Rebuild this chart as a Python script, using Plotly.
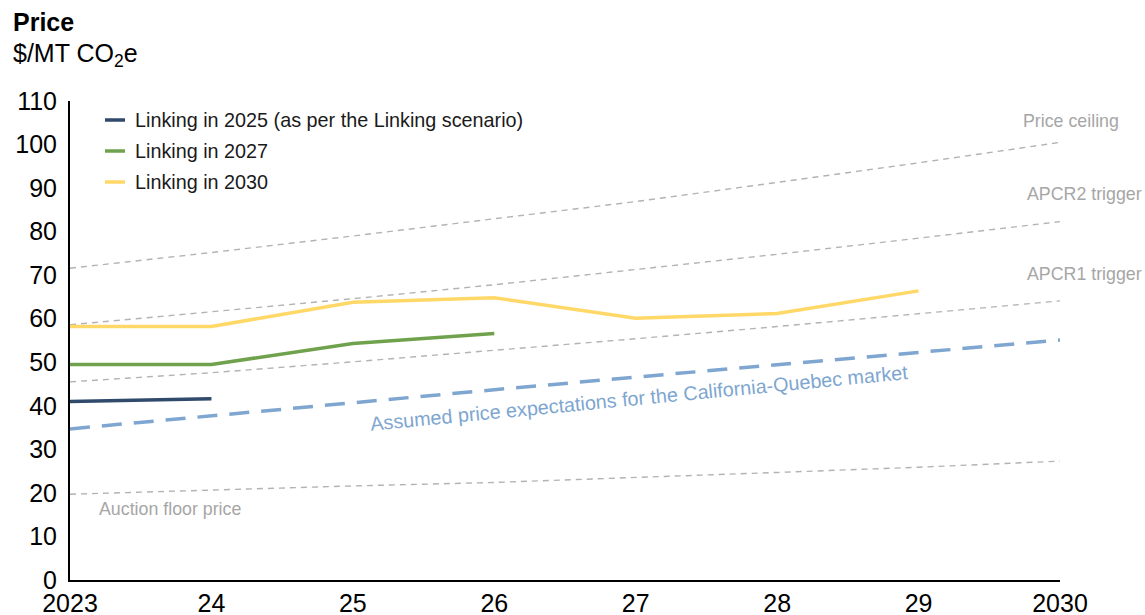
import plotly.graph_objects as go

years = [2023, 2024, 2025, 2026, 2027, 2028, 2029, 2030]
tick_labels = ["2023", "24", "25", "26", "27", "28", "29", "2030"]

# Linking scenarios
link_2025 = [41.0, 41.6]
link_2027 = [49.5, 49.5, 54.3, 56.6]
link_2030 = [58.2, 58.2, 63.8, 64.8, 60.1, 61.2, 66.4]

# Market reference levels
price_ceiling = [71.6, 75.2, 79.0, 82.9, 86.9, 91.3, 95.8, 100.5]
apcr2_trigger = [58.6, 61.6, 64.6, 67.8, 71.3, 74.8, 78.5, 82.3]
apcr1_trigger = [45.5, 47.6, 50.1, 52.7, 55.4, 58.2, 61.1, 64.1]
floor_price = [19.7, 20.7, 21.6, 22.4, 23.5, 24.7, 25.9, 27.3]
expected_price = [34.7, 37.7, 40.8, 43.7, 46.6, 49.5, 52.3, 55.1]

FONT = "Liberation Sans, Arial, sans-serif"
GREY = "#b3b3b3"
GREY_TXT = "#a6a6a6"
BLUE = "#7ea6d0"
NAVY = "#2f4a6b"
GREEN = "#70a24d"
YELLOW = "#ffd868"

fig = go.Figure()

for vals in [price_ceiling, apcr2_trigger, apcr1_trigger, floor_price]:
    fig.add_trace(go.Scatter(x=years, y=vals, mode="lines",
                             line=dict(color=GREY, width=1.4, dash="6px,5px"),
                             showlegend=False, hoverinfo="skip"))

fig.add_trace(go.Scatter(x=years, y=expected_price, mode="lines",
                         line=dict(color=BLUE, width=3.5, dash="20px,12px"),
                         showlegend=False))

series = [
    ("Linking in 2025 (as per the Linking scenario)", link_2025, NAVY),
    ("Linking in 2027", link_2027, GREEN),
    ("Linking in 2030", link_2030, YELLOW),
]
for name, vals, col in series:
    fig.add_trace(go.Scatter(x=years[:len(vals)], y=vals, mode="lines", name=name,
                             line=dict(color=col, width=3.5), showlegend=False))

# Legend drawn as short line samples with labels
PLOT_W = 990.0
PLOT_H = 479.0
for i, (name, vals, col) in enumerate(series):
    ypix = 120 + 31 * i
    yp = (580 - ypix) / PLOT_H
    fig.add_shape(type="line", xref="paper", yref="paper",
                  x0=(105 - 70) / PLOT_W, x1=(125 - 70) / PLOT_W, y0=yp, y1=yp,
                  line=dict(color=col, width=3.5))
    fig.add_annotation(xref="paper", yref="paper", x=(133 - 70) / PLOT_W, y=yp,
                       text=name, showarrow=False, xanchor="left", yanchor="middle",
                       font=dict(family=FONT, size=19.8, color="#1a1a1a"))

# Reference line labels
labels = [
    ("Price ceiling", 1121, 121, "right"),
    ("APCR2 trigger", 1144, 194, "right"),
    ("APCR1 trigger", 1144, 274, "right"),
    ("Auction floor price", 97, 509, "left"),
]
for txt, xpix, ypix, anchor in labels:
    fig.add_annotation(xref="paper", yref="paper", x=(xpix - 70) / PLOT_W,
                       y=(580 - ypix) / PLOT_H, text=txt, showarrow=False,
                       xanchor=anchor, yanchor="middle",
                       font=dict(family=FONT, size=17.8, color=GREY_TXT))

fig.add_annotation(x=2027.02, y=41.8, text="Assumed price expectations for the California-Quebec market",
                   showarrow=False, textangle=-5.5,
                   font=dict(family=FONT, size=19.8, color=BLUE))

# Title block
fig.add_annotation(xref="paper", yref="paper", x=(11 - 70) / PLOT_W, y=(580 - 22) / PLOT_H,
                   text="<b>Price</b>", showarrow=False, xanchor="left", yanchor="middle",
                   font=dict(family=FONT, size=25, color="#000000"))
fig.add_annotation(xref="paper", yref="paper", x=(11 - 70) / PLOT_W, y=(580 - 55) / PLOT_H,
                   text="$/MT CO<sub>2</sub>e", showarrow=False, xanchor="left", yanchor="middle",
                   font=dict(family=FONT, size=25, color="#000000"))

fig.update_layout(
    width=1145, height=615,
    margin=dict(l=70, r=85, t=101, b=35),
    plot_bgcolor="white", paper_bgcolor="white",
    font=dict(family=FONT, size=25, color="#000000"),
    showlegend=False,
    xaxis=dict(range=[2023, 2030], tickvals=years, ticktext=tick_labels,
               showgrid=False, zeroline=False, showline=True, linecolor="#000000",
               linewidth=2, ticks="", tickfont=dict(size=25), ticklabelstandoff=0,
               automargin=False),
    yaxis=dict(range=[0, 110], tickvals=list(range(0, 111, 10)),
               showgrid=False, zeroline=False, showline=True, linecolor="#000000",
               linewidth=2, ticks="", tickfont=dict(size=25), ticklabelstandoff=6,
               automargin=False),
)

fig.write_html("out.html")
